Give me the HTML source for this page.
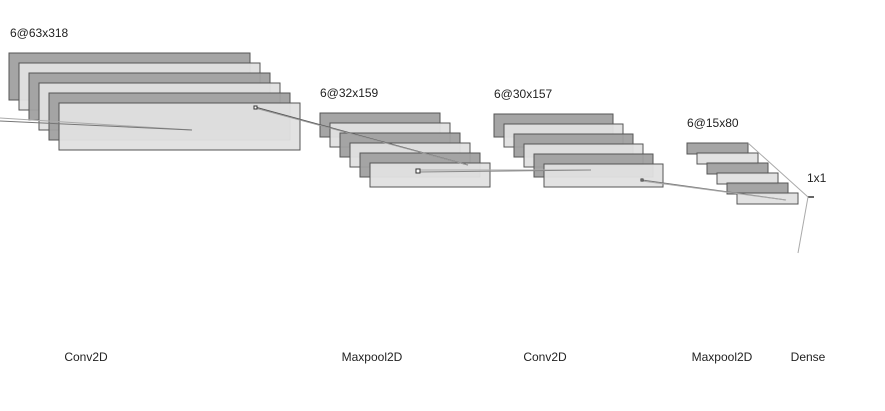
<!DOCTYPE html>
<html><head><meta charset="utf-8"><style>
html,body{margin:0;padding:0;background:#fff;}
svg{display:block;font-family:"Liberation Sans",Arial,sans-serif;}
</style></head><body>
<svg id="chart" width="885" height="411" viewBox="0 0 885 411" xmlns="http://www.w3.org/2000/svg"></svg>
<script>
const layerNames = ["Conv2D","Maxpool2D","Conv2D","Maxpool2D","Dense"];
const layerShapes = ["6@63x318","6@32x159","6@30x157","6@15x80","1x1"];
const featureMaps = [6,6,6,6,0];
// geometry (not data)
const geom = [
  {x:9,y:53,w:241,h:47,lx:10,ly:37,bx:86},
  {x:320,y:113,w:120,h:24,lx:320,ly:97,bx:372},
  {x:494,y:114,w:119,h:23,lx:494,ly:98,bx:545},
  {x:687,y:143,w:61,h:11,lx:687,ly:127,bx:722},
  {x:808,y:197,w:6,h:0,lx:807,ly:182,bx:808}
];
const svg=document.getElementById('chart');
const NS="http://www.w3.org/2000/svg";
function mk(tag,attrs){const e=document.createElementNS(NS,tag);for(const k in attrs)e.setAttribute(k,attrs[k]);svg.appendChild(e);return e;}
layerNames.forEach((name,i)=>{
  const g=geom[i];
  for(let j=0;j<featureMaps[i];j++){
    const r=mk('rect',{x:g.x+10*j,y:g.y+10*j,width:g.w,height:g.h,fill:j%2?'#e0e0e0':'#a0a0a0',stroke:'#555','stroke-width':1,'fill-opacity':0.95});
    
    
  }
  if(featureMaps[i]===0){
    const l=mk('line',{x1:g.x,y1:g.y,x2:g.x+g.w,y2:g.y,stroke:'#333','stroke-width':1.5});
    
    
  }
  const t=mk('text',{x:g.lx,y:g.ly,'font-size':12,fill:'#222'});
  t.textContent=layerShapes[i];
  
  
  const b=mk('text',{x:g.bx,y:361,'font-size':12,fill:'#222','text-anchor':'middle'});
  b.textContent=name;
  
  
});
const conns=[
 [0,118,192,130,'#aaa'],[0,121,192,130,'#777'],
 [255,107,468,165,'#555'],[255,108,468,165,'#999'],
 [418,170,591,170,'#aaa'],[418,172,591,170,'#888'],
 [642,180,786,200,'#777'],[642,181,786,200,'#aaa'],
 [748,143,808,197,'#aaa'],[808,197,798,253,'#aaa']
];
conns.forEach((c,k)=>{
  const l=mk('line',{x1:c[0],y1:c[1],x2:c[2],y2:c[3],stroke:c[4],'stroke-width':1});
  
  
});
[[254,106,3],[416,169,4],[641,179,2]].forEach((s,k)=>{
  const r=mk('rect',{x:s[0],y:s[1],width:s[2],height:s[2],fill:'#fff',stroke:'#333','stroke-width':1});
  
  
});
</script>
</body></html>
